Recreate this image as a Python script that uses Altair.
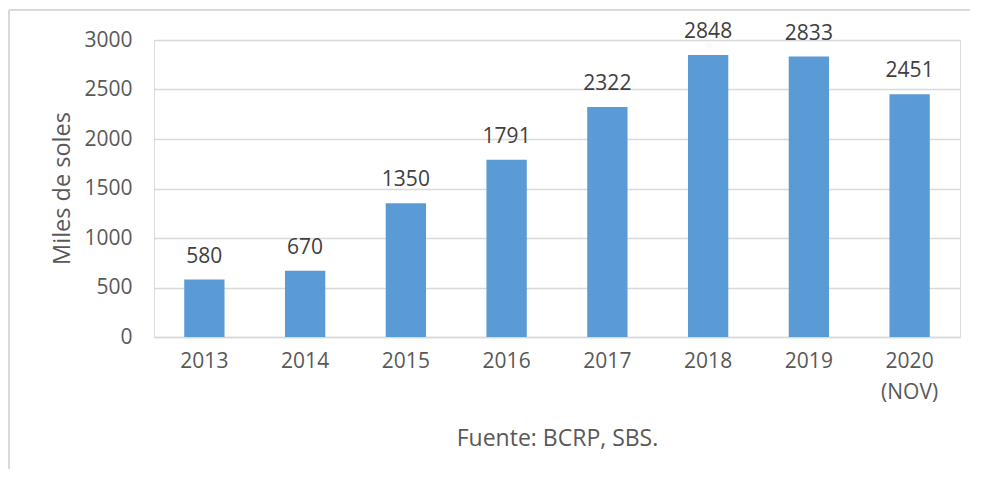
import altair as alt
import pandas as pd

years = ["2013", "2014", "2015", "2016", "2017", "2018", "2019", "2020|(NOV)"]
values = [580, 670, 1350, 1791, 2322, 2848, 2833, 2451]
y_ticks = [0, 500, 1000, 1500, 2000, 2500, 3000]

df = pd.DataFrame({"year": years, "value": values})

FONT = "Open Sans"
GRAY = "#595959"

x_enc = alt.X(
    "year:N",
    sort=years,
    scale=alt.Scale(paddingInner=0.6, paddingOuter=0.3),
    axis=alt.Axis(
        title="Fuente: BCRP, SBS.",
        titleX=403,
        titleY=101,
        titleAlign="center",
        titleBaseline="middle",
        titleFont=FONT,
        titleFontSize=23,
        titleFontWeight="normal",
        titleColor=GRAY,
        labelExpr="split(datum.label, '|')",
        labelAngle=0,
        labelFont=FONT,
        labelFontSize=21,
        labelColor=GRAY,
        labelPadding=13,
        labelLineHeight=31,
        ticks=False,
        domainColor="#d9d9d9",
        domainWidth=1.5,
        grid=False,
    ),
)

y_enc = alt.Y(
    "value:Q",
    scale=alt.Scale(domain=[0, 3000], nice=False),
    axis=alt.Axis(
        title="Miles de soles",
        titleX=-92,
        titleY=148,
        titleAngle=-90,
        titleAlign="center",
        titleBaseline="middle",
        titleFont=FONT,
        titleFontSize=23.5,
        titleFontWeight="normal",
        titleColor=GRAY,
        values=y_ticks,
        format="d",
        labelFont=FONT,
        labelFontSize=21,
        labelColor=GRAY,
        labelPadding=22,
        ticks=False,
        domain=False,
        gridColor="#d9d9d9",
        gridWidth=1.5,
    ),
)

bars = alt.Chart(df).mark_bar(color="#5B9BD5").encode(x=x_enc, y=y_enc)

labels = alt.Chart(df).mark_text(
    baseline="alphabetic", dy=-17, font=FONT, fontSize=21, color="#404040"
).encode(x=alt.X("year:N", sort=years), y="value:Q", text="value:Q")

frame_top = alt.Chart(df).mark_rule(
    stroke="#d9d9d9", strokeWidth=1.5, clip=False
).encode(x=alt.value(-145), x2=alt.value(900), y=alt.value(-30))

frame_left = alt.Chart(df).mark_rule(
    stroke="#d9d9d9", strokeWidth=1.5, clip=False
).encode(x=alt.value(-145), y=alt.value(-30), y2=alt.value(500))

chart = (
    alt.layer(frame_top, frame_left, bars, labels)
    .properties(
        width=806,
        height=297,
        padding={"left": 146, "top": 32, "right": 10, "bottom": 132},
        autosize=alt.AutoSizeParams(type="none"),
    )
    .configure_view(stroke=None)
    .configure(background="white")
)

chart.save("out.html", embed_options={"renderer": "svg", "actions": False})
